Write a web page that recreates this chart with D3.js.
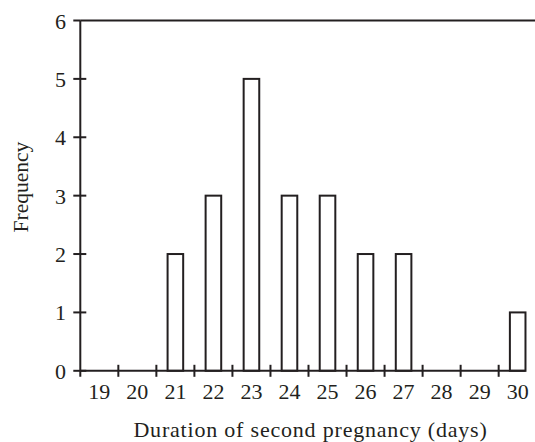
<!DOCTYPE html>
<html>
<head>
<meta charset="utf-8">
<script src="https://cdn.jsdelivr.net/npm/d3@7"></script>
<style>
  html, body { margin: 0; padding: 0; background: #fff; }
  svg { display: block; }
  text { font-family: "Liberation Serif", "DejaVu Serif", serif; fill: #231f20; }
</style>
</head>
<body>
<svg id="chart" width="535" height="442"></svg>
<script>
// Duration of second pregnancy (days) and how often each occurred
const days = ["19", "20", "21", "22", "23", "24", "25", "26", "27", "28", "29", "30"];
const frequency = [0, 0, 2, 3, 5, 3, 3, 2, 2, 0, 0, 1];
const yTicks = [0, 1, 2, 3, 4, 5, 6];

const ink = "#231f20";
const svg = d3.select("#chart");

const x = d3.scaleBand()
  .domain(days)
  .range([80.3, 536.7])
  .paddingInner(0.59)
  .paddingOuter(0.295);

const y = d3.scaleLinear().domain([0, 6]).range([370.8, 20.5]);

const x0 = x.range()[0];
const step = x.step();
const lastBarRight = x(days[days.length - 1]) + x.bandwidth();

// bars
svg.append("g")
  .selectAll("rect")
  .data(days.map((d, i) => ({ d, v: frequency[i] })).filter(o => o.v > 0))
  .join("rect")
  .attr("x", o => x(o.d))
  .attr("y", o => y(o.v))
  .attr("width", x.bandwidth())
  .attr("height", o => y(0) - y(o.v))
  .attr("fill", "#fff")
  .attr("stroke", ink)
  .attr("stroke-width", 2);

const axes = svg.append("g").attr("stroke", ink).attr("stroke-width", 2).attr("fill", "none");

// y axis line, running a little below the baseline
axes.append("line")
  .attr("x1", x0).attr("x2", x0)
  .attr("y1", y(6)).attr("y2", y(0) + 6);

// top rule
axes.append("line")
  .attr("x1", x0).attr("x2", 535)
  .attr("y1", y(6)).attr("y2", y(6));

// x axis line
axes.append("line")
  .attr("x1", x0).attr("x2", lastBarRight)
  .attr("y1", y(0)).attr("y2", y(0));

// y ticks crossing the axis
axes.selectAll(".yt")
  .data(yTicks)
  .join("line")
  .attr("x1", x0 - 7)
  .attr("x2", t => t === 6 ? x0 : x0 + 6)
  .attr("y1", t => y(t)).attr("y2", t => y(t));

// x ticks on the boundaries between days
axes.selectAll(".xt")
  .data(days.slice(1))
  .join("line")
  .attr("x1", d => x(d) - step * 0.295).attr("x2", d => x(d) - step * 0.295)
  .attr("y1", y(0) - 6).attr("y2", y(0) + 6);

// tick labels
svg.append("g")
  .selectAll("text")
  .data(yTicks)
  .join("text")
  .attr("x", 66)
  .attr("y", t => y(t) + 8)
  .attr("text-anchor", "end")
  .attr("font-size", 22)
  .text(t => t);

svg.append("g")
  .selectAll("text")
  .data(days)
  .join("text")
  .attr("x", d => x(d) + x.bandwidth() / 2)
  .attr("y", 399)
  .attr("text-anchor", "middle")
  .attr("font-size", 22)
  .text(d => d);

// axis titles
svg.append("text")
  .attr("transform", "translate(28,187) rotate(-90)")
  .attr("text-anchor", "middle")
  .attr("font-size", 21.5)
  .text("Frequency");

svg.append("text")
  .attr("x", 310.5)
  .attr("y", 437)
  .attr("text-anchor", "middle")
  .attr("font-size", 22)
  .attr("letter-spacing", 0.8)
  .text("Duration of second pregnancy (days)");
</script>
</body>
</html>
